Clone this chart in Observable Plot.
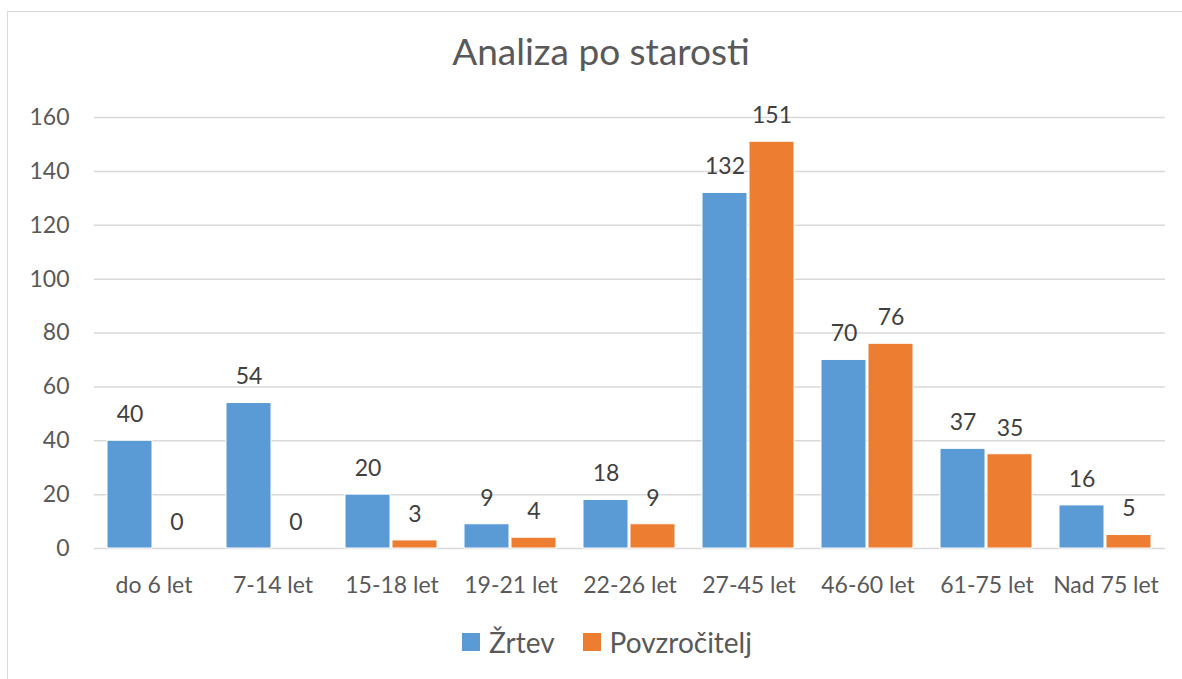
<!DOCTYPE html>
<html>
<head>
<meta charset="utf-8">
<script src="https://cdn.jsdelivr.net/npm/d3@7"></script>
<script src="https://cdn.jsdelivr.net/npm/@observablehq/plot@0.6"></script>
<style>
  html, body { margin: 0; padding: 0; background: #fff; }
  #wrap { position: relative; width: 1182px; height: 679px; overflow: hidden; font-family: Lato, "Open Sans", sans-serif; color: #595959; }
  #frame { position: absolute; left: 7px; top: 11px; width: 1200px; height: 700px; border: 1px solid #d9d9d9; box-sizing: border-box; pointer-events: none; }
  #title { height: 90px; box-sizing: border-box; padding-top: 28px; line-height: 46px; font-size: 37px; text-align: center; padding-left: 20px; }
  #chart svg { display: block; }
  #legend { height: 44px; display: flex; align-items: center; justify-content: center; font-size: 28px; padding-left: 32px; }
  .item { display: flex; align-items: center; margin: 0 14px; }
  .sw { width: 18px; height: 18px; margin-right: 9px; }
</style>
</head>
<body>
<div id="wrap">
  <div id="frame"></div>
  <div id="title">Analiza po starosti</div>
  <div id="chart"></div>
  <div id="legend"></div>
</div>
<script>
const categories = ["do 6 let", "7-14 let", "15-18 let", "19-21 let", "22-26 let", "27-45 let", "46-60 let", "61-75 let", "Nad 75 let"];
const zrtev = [40, 54, 20, 9, 18, 132, 70, 37, 16];
const povzrocitelj = [0, 0, 3, 4, 9, 151, 76, 35, 5];
const series = ["Žrtev", "Povzročitelj"];
const colors = ["#5B9BD5", "#ED7D31"];
const yTicks = [0, 20, 40, 60, 80, 100, 120, 140, 160];

const data = categories.flatMap((c, i) => [
  {cat: c, s: series[0], v: zrtev[i]},
  {cat: c, s: series[1], v: povzrocitelj[i]}
]);

const chart = Plot.plot({
  width: 1182,
  height: 530,
  marginTop: 27,
  marginBottom: 72,
  marginLeft: 91,
  marginRight: 15,
  style: {fontFamily: "Lato, 'Open Sans', sans-serif", fontSize: "23px", color: "#595959", background: "transparent", overflow: "visible"},
  fx: {domain: categories, padding: 0, axis: "bottom", label: null, tickSize: 0, tickPadding: 28},
  x: {domain: series, axis: null, paddingInner: 0.042, paddingOuter: 0.266},
  y: {domain: [0, 160], ticks: yTicks, tickSize: 0, tickPadding: 25, label: null},
  color: {domain: series, range: colors},
  marks: [
    Plot.ruleY(yTicks, {stroke: "#d9d9d9", strokeWidth: 1.5}),
    Plot.barY(data, {fx: "cat", x: "s", y: "v", fill: "s", stroke: "white", strokeWidth: 1}),
    Plot.text(data, {fx: "cat", x: "s", y: "v", text: d => String(d.v), dy: -26, fontSize: 23, fill: "#404040"})
  ]
});
document.getElementById("chart").appendChild(chart);

const legend = document.getElementById("legend");
series.forEach((s, i) => {
  const item = document.createElement("div");
  item.className = "item";
  const sw = document.createElement("div");
  sw.className = "sw";
  sw.style.background = colors[i];
  const label = document.createElement("span");
  label.textContent = s;
  item.appendChild(sw);
  item.appendChild(label);
  legend.appendChild(item);
});
</script>
</body>
</html>
